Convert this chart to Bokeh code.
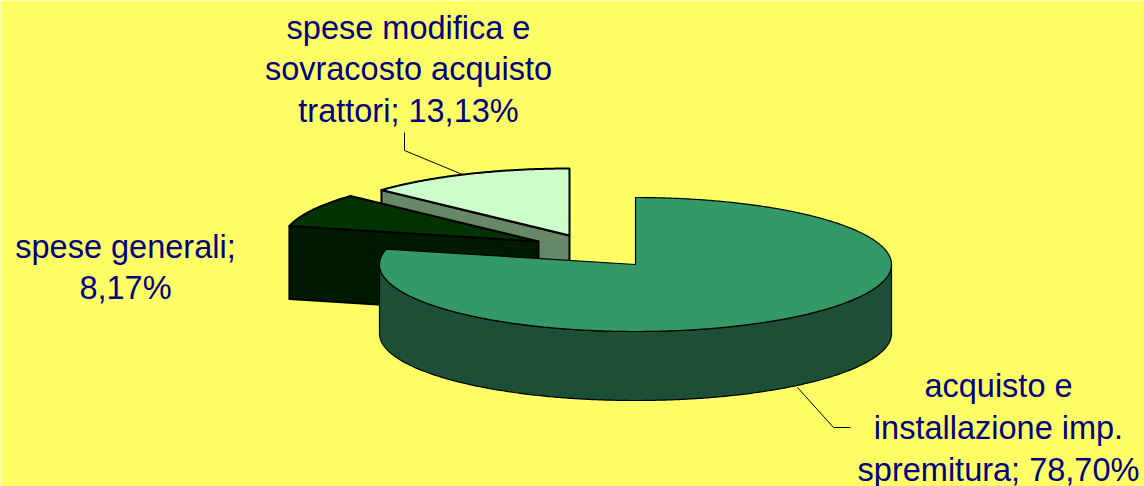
import numpy as np
from bokeh.core.properties import value
from bokeh.embed import file_html
from bokeh.models import Range1d
from bokeh.plotting import figure
from bokeh.resources import INLINE

# Budget shares, in the order they run clockwise from twelve o'clock
names = ["acquisto e installazione imp. spremitura", "spese generali", "spese modifica e sovracosto acquisto trattori"]
shares = [78.70, 8.17, 13.13]
label_lines = [
    ["acquisto e", "installazione imp.", "spremitura; 78,70%"],
    ["spese generali;", "8,17%"],
    ["spese modifica e", "sovracosto acquisto", "trattori; 13,13%"],
]

# Pie geometry in page pixels
RX, RY = 256, 67
depths = [69, 73, 69]
centres = [(635, 264), (538, 241), (569, 235)]
top_colours = ["#339966", "#003300", "#CCFFCC"]
side_colours = ["#1C4F36", "#001A00", "#668866"]
edge_widths = [1.2, 2, 2]
label_pos = [(998, 385), (125, 246), (408, 27)]
LINE_GAP = [42, 41, 41.5]
leaders = [([797, 833, 850], [387, 427, 427]), ([404, 404, 462], [132, 150, 174])]

W, H = 1144, 486
p = figure(width=W, height=H, output_backend="svg", toolbar_location=None,
           x_range=Range1d(0, W), y_range=Range1d(H, 0), min_border=0,
           background_fill_color="#FFFF66", border_fill_color="#FFFF66", outline_line_color=None)
p.axis.visible = False
p.grid.visible = False


def rim(cx, cy, a0, a1):
    """Points on the ellipse, angles in degrees clockwise from the top."""
    t = np.radians(np.linspace(a0, a1, max(2, int(abs(a1 - a0) * 2))))
    return cx + RX * np.sin(t), cy - RY * np.cos(t)


bounds = np.concatenate([[0], np.cumsum(shares) * 3.6])
bounds[-1] = 360


def draw_top(i):
    cx, cy = centres[i]
    x, y = rim(cx, cy, bounds[i], bounds[i + 1])
    p.patch(np.r_[cx, x], np.r_[cy, y], fill_color=top_colours[i],
            line_color="black", line_width=edge_widths[i], line_join="round")


def draw_cut_face(i, angle):
    """The flat radial wall of an exploded slice, seen from the front."""
    cx, cy = centres[i]
    x, y = rim(cx, cy, angle, angle)
    xs = [cx, x[0], x[0], cx]
    ys = [cy, y[0], y[0] + depths[i], cy + depths[i]]
    p.patch(xs, ys, fill_color=side_colours[i], line_color="black",
            line_width=edge_widths[i], line_join="round")


# Back slices first, so the large slice overlaps them
draw_cut_face(2, bounds[2])
draw_top(2)
draw_cut_face(1, bounds[1])
draw_top(1)

# Outer wall of the large slice: the visible lower half of the rim
cx, cy = centres[0]
x, y = rim(cx, cy, 90, 270)
p.patch(np.r_[x, x[::-1]], np.r_[y, y[::-1] + depths[0]], fill_color=side_colours[0],
        line_color="black", line_width=edge_widths[0], line_join="round")
draw_top(0)

for lx, ly in leaders:
    p.line(lx, ly, line_color="black", line_width=1)

for lines, (tx, ty), gap in zip(label_lines, label_pos, LINE_GAP):
    p.text([tx] * len(lines), [ty + k * gap for k in range(len(lines))], text=lines,
           text_font=value("Liberation Sans"), text_font_size="32.5px", text_color="#000080",
           text_align="center", text_baseline="middle")

open("out.html", "w").write(file_html(p, INLINE))
